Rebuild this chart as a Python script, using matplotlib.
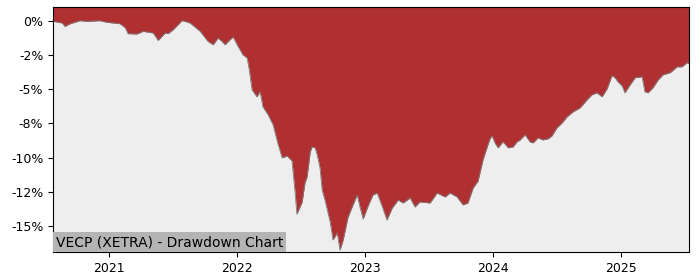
import numpy as np
import matplotlib
matplotlib.use('Agg')
import matplotlib.pyplot as plt
import matplotlib.dates as mdates
import matplotlib.ticker as mticker
import pandas as pd

# Drawdown values (percent below running peak)
dates = [
    '2020-07-25', '2020-08-06', '2020-08-20', '2020-08-28', '2020-09-12', '2020-10-10',
    '2020-10-30', '2020-12-06', '2020-12-26', '2021-02-01', '2021-02-16', '2021-02-24',
    '2021-03-22', '2021-04-08', '2021-05-07', '2021-05-21', '2021-06-10', '2021-06-18',
    '2021-07-03', '2021-07-28', '2021-08-06', '2021-08-20', '2021-09-18', '2021-10-10',
    '2021-10-25', '2021-11-08', '2021-11-19', '2021-11-28', '2021-12-12', '2021-12-21',
    '2022-01-04', '2022-01-18', '2022-01-30', '2022-02-05', '2022-02-13', '2022-02-27',
    '2022-03-08', '2022-03-16', '2022-03-31', '2022-04-14', '2022-04-28', '2022-05-10',
    '2022-05-24', '2022-06-07', '2022-06-16', '2022-06-21', '2022-06-30', '2022-07-06',
    '2022-07-14', '2022-07-20', '2022-07-29', '2022-08-03', '2022-08-12', '2022-08-18',
    '2022-08-26', '2022-09-01', '2022-09-09', '2022-09-24', '2022-10-02', '2022-10-14',
    '2022-10-22', '2022-10-31', '2022-11-14', '2022-11-28', '2022-12-10', '2022-12-18',
    '2022-12-27', '2023-01-10', '2023-01-24', '2023-02-05', '2023-02-19', '2023-03-05',
    '2023-03-20', '2023-04-06', '2023-04-20', '2023-05-10', '2023-05-24', '2023-06-07',
    '2023-07-06', '2023-07-26', '2023-08-18', '2023-09-01', '2023-09-21', '2023-10-08',
    '2023-10-22', '2023-11-06', '2023-11-20', '2023-12-04', '2023-12-16', '2023-12-24',
    '2023-12-30', '2024-01-07', '2024-01-16', '2024-01-30', '2024-02-14', '2024-02-28',
    '2024-03-10', '2024-03-19', '2024-04-02', '2024-04-16', '2024-04-25', '2024-05-09',
    '2024-05-23', '2024-06-07', '2024-06-18', '2024-07-02', '2024-07-17', '2024-07-31',
    '2024-08-17', '2024-09-06', '2024-09-26', '2024-10-10', '2024-10-24', '2024-11-08',
    '2024-11-22', '2024-12-06', '2024-12-15', '2024-12-23', '2025-01-04', '2025-01-12',
    '2025-01-27', '2025-02-10', '2025-03-02', '2025-03-10', '2025-03-19', '2025-04-02',
    '2025-04-17', '2025-05-01', '2025-05-21', '2025-06-10', '2025-06-24', '2025-07-08',
    '2025-07-14',
]
drawdown = [
    -0.05, -0.10, -0.17, -0.42, -0.22, 0.00,
    -0.05, 0.00, -0.12, -0.22, -0.51, -0.95,
    -0.97, -0.78, -0.90, -1.44, -0.90, -0.95,
    -0.66, 0.00, -0.05, -0.17, -0.78, -1.51,
    -1.76, -1.27, -1.51, -1.76, -1.39, -1.19,
    -1.88, -2.49, -2.73, -3.59, -5.05, -5.56,
    -5.19, -6.29, -6.88, -7.61, -9.00, -10.02,
    -9.88, -10.24, -12.59, -14.13, -13.61, -13.25,
    -11.85, -11.41, -9.59, -9.22, -9.29, -9.80,
    -10.76, -12.37, -13.10, -14.71, -16.02, -15.51,
    -16.76, -16.02, -14.34, -13.46, -12.73, -13.61,
    -14.49, -13.54, -12.73, -12.59, -13.54, -14.56,
    -13.68, -13.10, -13.32, -12.95, -13.61, -13.24,
    -13.32, -12.59, -12.88, -12.59, -12.88, -13.46,
    -13.32, -12.22, -11.71, -10.17, -9.22, -8.63,
    -8.41, -8.93, -9.29, -8.85, -9.29, -9.22,
    -8.85, -8.71, -8.34, -8.85, -8.93, -8.56,
    -8.71, -8.63, -8.41, -7.83, -7.46, -7.02,
    -6.66, -6.37, -5.78, -5.41, -5.27, -5.56,
    -4.98, -4.02, -4.17, -4.46, -4.76, -5.27,
    -4.68, -4.17, -4.10, -5.19, -5.27, -4.90,
    -4.32, -3.95, -3.80, -3.37, -3.37, -3.07,
    -3.15,
]
y_ticks = [0, -2.5, -5, -7.5, -10, -12.5, -15]
title = 'VECP (XETRA) - Drawdown Chart'

x = pd.to_datetime(dates)
dd = np.array(drawdown)
y_top, y_bottom = 1.0, -16.9

fig = plt.figure(figsize=(7, 2.8), dpi=100)
ax = fig.add_axes([0.0757, 0.1, 0.9086, 0.875])
ax.set_facecolor('#eeeeee')

# red area from the curve up to the top of the plot
ax.fill_between(x, dd, y_top + 1, color='#b03031', linewidth=0)
ax.plot(x, dd, color='#7a7a7a', linewidth=0.6)

ax.set_xlim(x[0], x[-1])
ax.set_ylim(y_bottom, y_top)
ax.set_yticks(y_ticks)
ax.yaxis.set_major_formatter(mticker.FuncFormatter(lambda v, p: '{:.0f}%'.format(v)))
ax.xaxis.set_major_locator(mdates.YearLocator())
ax.xaxis.set_major_formatter(mdates.DateFormatter('%Y'))
ax.tick_params(labelsize=9)

ax.text(0.004, 0.012, title, transform=ax.transAxes, fontsize=10, color='black',
        ha='left', va='bottom',
        bbox=dict(facecolor='#b4b4b4', edgecolor='none', pad=2))

fig.savefig('out.png', dpi=100)
